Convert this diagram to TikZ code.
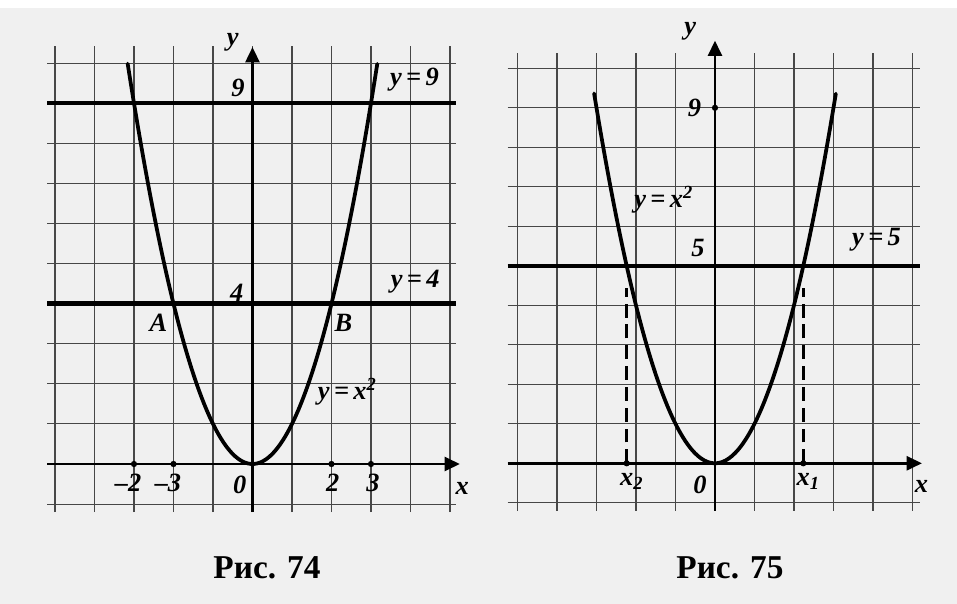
\documentclass[tikz,border=0pt]{standalone}
\usepackage{fontspec}
\setmainfont{Liberation Serif}
\usetikzlibrary{arrows.meta}
\definecolor{paper}{RGB}{240,240,240}

\begin{document}
\begin{tikzpicture}[x=1cm, y=1cm,
    gridline/.style={black!72, line width=0.8pt},
    thickline/.style={line width=3.2pt},
    axisline/.style={line width=2pt, -{Triangle[length=11pt,width=10pt]}},
    curve/.style={line width=2.7pt, line cap=round},
    dropline/.style={line width=2.4pt, dash pattern=on 10pt off 5pt},
    lbl/.style={font=\fontsize{19}{21}\selectfont\bfseries\itshape, inner sep=0pt},
    figcap/.style={font=\fontsize{24}{26}\selectfont\bfseries, inner sep=0pt},
    dot/.style={circle, fill=black, inner sep=0pt, minimum size=4.5pt}]
  % page
  \fill[paper] (0,0) rectangle (24.228,15.291);
  \fill[white] (0,15.09) rectangle (24.228,15.291);
  \useasboundingbox (0,0) rectangle (24.228,15.291);

  % Fig. 74
  \begin{scope}[shift={(6.392,3.544)}, yscale=1.015]
    \foreach \i in {-5,...,5}
      \draw[gridline] (\i,-1.2) -- (\i,10.42);
    \foreach \j in {-1,...,10}
      \draw[gridline] (-5.2,\j) -- (5.15,\j);
    \coordinate (oL) at (0,0);
    \draw[axisline] (-5.2,0) -- (5.25,0);
    \draw[axisline] (0,-1.2) -- (0,10.4);
    \draw[thickline] (-5.2,9) -- (5.15,9);
    \draw[thickline] (-5.2,4) -- (5.15,4);
    \draw[curve, domain=-3.16:3.16, samples=80, smooth] plot (\x,{\x*\x});
    \foreach \t in {-3,-2,2,3}
      \node[dot] at (\t,0) {};
    \node[lbl] (yL) at (-0.5,10.52) {y};
    \node[lbl] (xL) at (5.31,-0.61) {x};
    \node[lbl] (nineL) at (-0.37,9.38) {9};
    \node[lbl] (fourL) at (-0.4,4.26) {4};
    \node[lbl] (lineNine) at (4.1,9.58) {y\,=\,9};
    \node[lbl] (lineFour) at (4.12,4.54) {y\,=\,4};
    \node[lbl] (ptA) at (-2.38,3.51) {A};
    \node[lbl] (ptB) at (2.3,3.51) {B};
    \node[lbl] (parL) at (2.4,1.8) {y\,=\,x\textsuperscript{2}};
    \node[lbl] (tA) at (-3.15,-0.48) {--2};
    \node[lbl] (tB) at (-2.14,-0.48) {--3};
    \node[lbl] (zeroL) at (-0.32,-0.52) {0};
    \node[lbl] (tC) at (2.03,-0.48) {2};
    \node[lbl] (tD) at (3.05,-0.48) {3};
  \end{scope}

  % Fig. 75
  \begin{scope}[shift={(18.101,3.562)}]
    \foreach \i in {-5,...,5}
      \draw[gridline] (\i,-1.2) -- (\i,10.38);
    \foreach \j in {-1,...,10}
      \draw[gridline] (-5.25,\j) -- (5.2,\j);
    \coordinate (oR) at (0,0);
    \draw[axisline] (-5.25,0) -- (5.24,0);
    \draw[axisline] (0,-1.2) -- (0,10.7);
    \draw[thickline] (-5.25,5) -- (5.2,5);
    \draw[curve, domain=-3.06:3.06, samples=80, smooth] plot (\x,{\x*\x});
    \coordinate (xTwo) at ({-sqrt(5)},0);
    \coordinate (xOne) at ({sqrt(5)},0);
    \draw[dropline] (xTwo) -- ++(0,4.45);
    \draw[dropline] (xOne) -- ++(0,4.45);
    \node[dot] at (xTwo) {};
    \node[dot] at (xOne) {};
    \node[dot] at (0,9) {};
    \node[lbl] (yR) at (-0.63,10.93) {y};
    \node[lbl] (xR) at (5.23,-0.59) {x};
    \node[lbl] (nineR) at (-0.52,9.0) {9};
    \node[lbl] (fiveR) at (-0.43,5.45) {5};
    \node[lbl] (lineFive) at (4.09,5.65) {y\,=\,5};
    \node[lbl] (parR) at (-1.3,6.67) {y\,=\,x\textsuperscript{2}};
    \node[lbl] (xTwoL) at (-2.11,-0.47) {x\textsubscript{2}};
    \node[lbl] (zeroR) at (-0.38,-0.55) {0};
    \node[lbl] (xOneL) at (2.36,-0.47) {x\textsubscript{1}};
  \end{scope}

  % captions
  \node[figcap] (capL) at (6.76,0.91) {Рис. 74};
  \node[figcap] (capR) at (18.48,0.91) {Рис. 75};
\end{tikzpicture}
\end{document}
